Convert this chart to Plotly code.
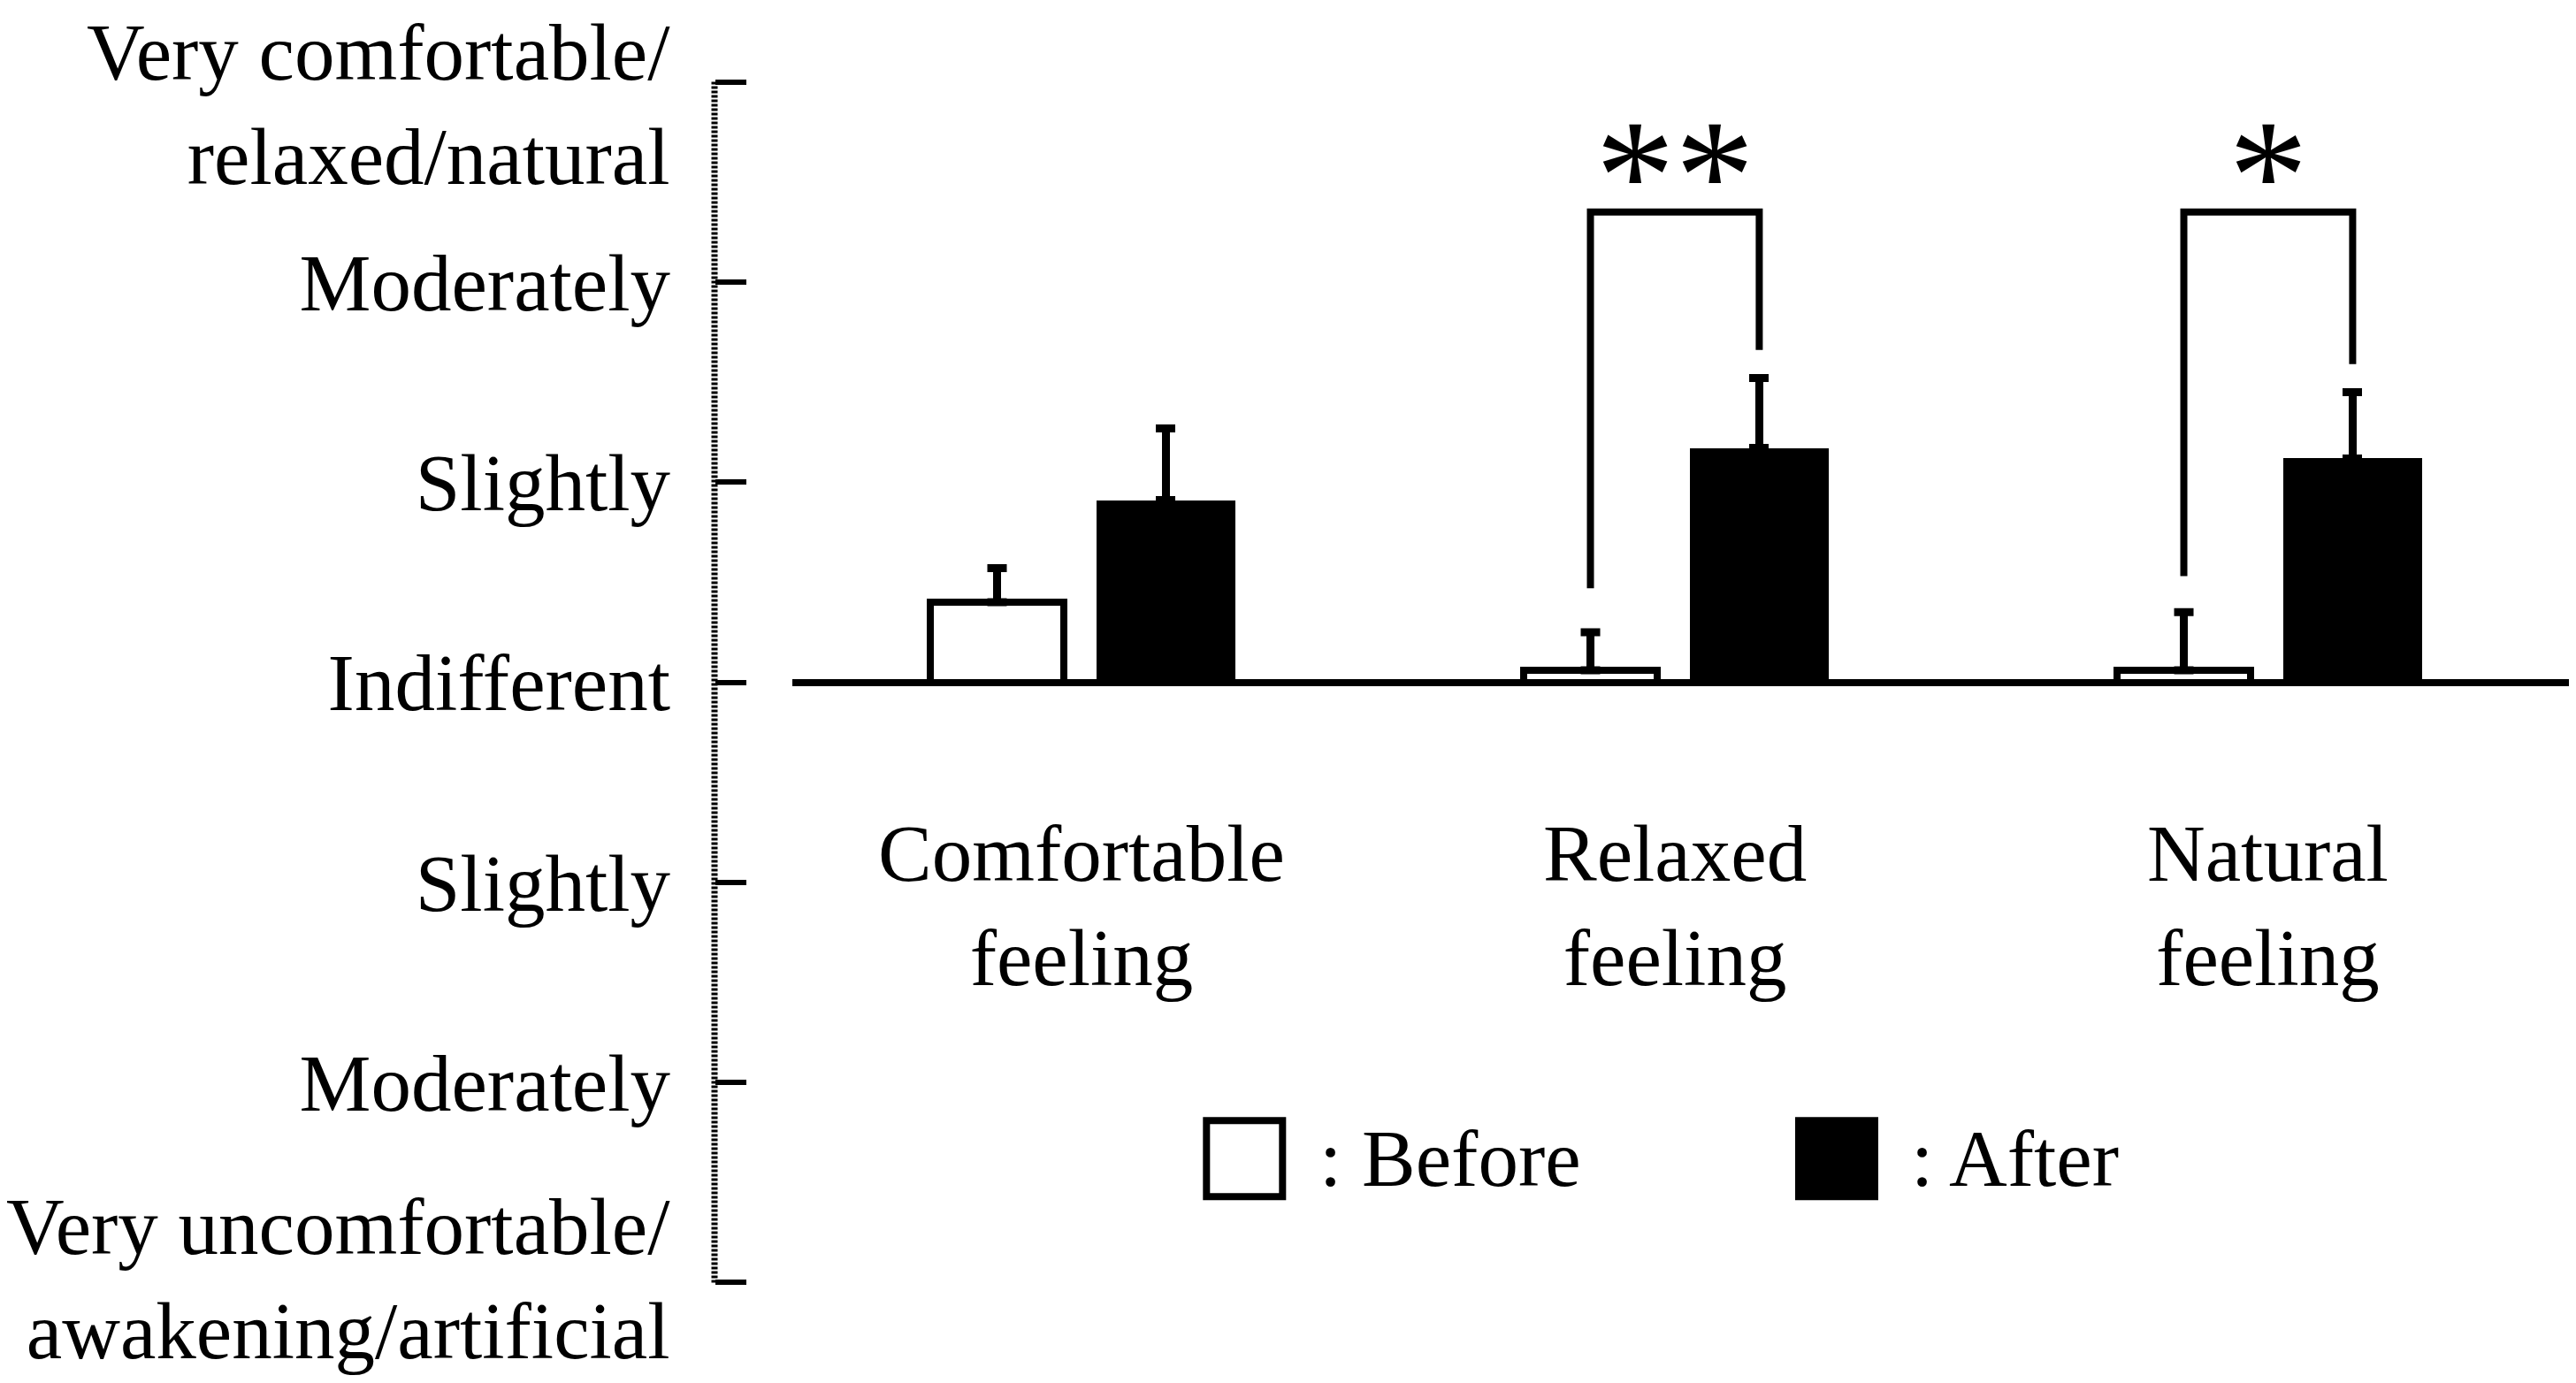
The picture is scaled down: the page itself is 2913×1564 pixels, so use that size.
import plotly.graph_objects as go

# ---- data -------------------------------------------------------------
categories = ["Comfortable<br>feeling", "Relaxed<br>feeling", "Natural<br>feeling"]
before_mean = [0.40, 0.06, 0.06]
before_se = [0.17, 0.19, 0.29]
after_mean = [0.91, 1.17, 1.12]
after_se = [0.36, 0.35, 0.33]

scale_vals = [-3, -2, -1, 0, 1, 2, 3]
scale_text = [
    "Very uncomfortable/<br>awakening/artificial",
    "Moderately",
    "Slightly",
    "Indifferent",
    "Slightly",
    "Moderately",
    "Very comfortable/<br>relaxed/natural",
]

# significance brackets (category index, left end, right end, top, label)
sig_idx = [1, 2]
sig_left = [0.47, 0.53]
sig_right = [1.66, 1.59]
sig_top = [2.35, 2.35]
sig_label = ["**", "*"]

# ---- layout constants --------------------------------------------------
# the page body has an 8px margin, so the figure is a bit smaller than the window
OFF = 8
W, H = 2913 - 2 * OFF, 1564 - 2 * OFF
YPAD = 0.02
UNIT = 226.3                       # px per scale step
MT = 93 - OFF - YPAD * UNIT
MB = H - (1450 - OFF + YPAD * UNIT)
ML, MR = 0, 0
PW = W - ML - MR
FONT = "Liberation Serif"
FS = 91

x = list(range(len(categories)))
b_off, b_w = -0.254, 0.224
a_off, a_w = 0.025, 0.235
b_ctr = b_off + b_w / 2
a_ctr = a_off + a_w / 2

fig = go.Figure()

fig.add_trace(go.Bar(
    x=x, y=before_mean, width=b_w, offset=b_off,
    marker=dict(color="white", line=dict(color="black", width=8)),
    error_y=dict(type="data", symmetric=False, array=before_se,
                 arrayminus=[0] * len(x), color="black", thickness=9, width=11),
    showlegend=False,
))
fig.add_trace(go.Bar(
    x=x, y=after_mean, width=a_w, offset=a_off,
    marker=dict(color="black", line=dict(color="black", width=0)),
    error_y=dict(type="data", symmetric=False, array=after_se,
                 arrayminus=[0] * len(x), color="black", thickness=9, width=11),
    showlegend=False,
))

# significance brackets
for i, lo, hi, top, lab in zip(sig_idx, sig_left, sig_right, sig_top, sig_label):
    fig.add_trace(go.Scatter(
        x=[i + b_ctr, i + b_ctr, i + a_ctr, i + a_ctr],
        y=[lo, top, top, hi],
        mode="lines", line=dict(color="black", width=8),
        hoverinfo="skip", showlegend=False,
    ))
    fig.add_annotation(
        x=i + (b_ctr + a_ctr) / 2, y=top, yshift=-60,
        text=lab, showarrow=False,
        xanchor="center", yanchor="bottom",
        font=dict(family=FONT, size=180, color="black"),
    )

# category labels under the baseline
for xi, cat in zip(x, categories):
    fig.add_annotation(
        x=xi, y=-1.12, text=cat, showarrow=False,
        xanchor="center", yanchor="middle",
        font=dict(family=FONT, size=FS, color="black"),
    )

# legend drawn by hand (large squares)
fig.add_trace(go.Scatter(
    x=[0.275], y=[-2.38], mode="markers",
    marker=dict(symbol="square", size=86, color="white",
                line=dict(color="black", width=8)),
    hoverinfo="skip", showlegend=False,
))
fig.add_trace(go.Scatter(
    x=[1.273], y=[-2.38], mode="markers",
    marker=dict(symbol="square", size=94, color="black",
                line=dict(color="black", width=0)),
    hoverinfo="skip", showlegend=False,
))
for lx, lt in [(0.398, ": Before"), (1.395, ": After")]:
    fig.add_annotation(
        x=lx, y=-2.38, text=lt, showarrow=False,
        xanchor="left", yanchor="middle",
        font=dict(family=FONT, size=FS, color="black"),
    )

# dotted vertical scale line
yaxis_px = 808 - OFF
fig.add_shape(
    type="line", xref="paper", yref="y",
    x0=(yaxis_px - ML) / PW, x1=(yaxis_px - ML) / PW, y0=-3, y1=3,
    line=dict(color="black", width=7, dash="3px,2px"),
)

# the two-line end labels of the scale are written as annotations so they
# can sit a little off their ticks and stay inside the page
label_x = (760 - OFF - ML) / PW
for yv, txt, ys in [(scale_vals[-1], scale_text[-1], -26),
                    (scale_vals[0], scale_text[0], 4)]:
    fig.add_annotation(
        xref="paper", x=label_x, y=yv, yshift=ys, text=txt,
        showarrow=False, xanchor="right", yanchor="middle", align="right",
        font=dict(family=FONT, size=FS, color="black"),
    )

fig.update_layout(
    width=W, height=H,
    margin=dict(l=ML, r=MR, t=MT, b=MB, pad=0, autoexpand=False),
    paper_bgcolor="white", plot_bgcolor="white",
    font=dict(family=FONT, size=FS, color="black"),
    bargap=0,
    xaxis=dict(
        domain=[(896 - OFF - ML) / PW, 1],
        range=[-0.487, 2.507],
        showgrid=False, zeroline=False, showline=False,
        showticklabels=False, ticks="", automargin=False,
    ),
    yaxis=dict(
        anchor="free", position=(yaxis_px - ML) / PW,
        range=[-3 - YPAD, 3 + YPAD],
        tickvals=scale_vals,
        ticktext=[""] + scale_text[1:-1] + [""],
        ticks="inside", ticklen=35, tickwidth=6, tickcolor="black",
        showline=False, showgrid=False,
        zeroline=True, zerolinecolor="black", zerolinewidth=8,
        ticklabelstandoff=50, ticklabeloverflow="allow", automargin=False,
    ),
)

fig.write_html("out.html")
